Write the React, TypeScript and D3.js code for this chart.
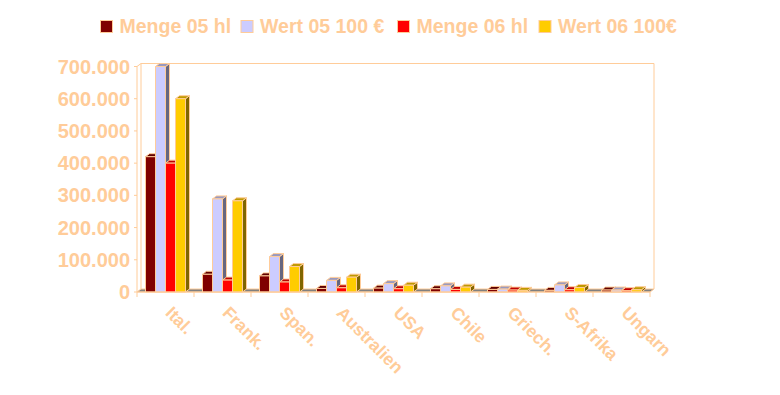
import React from "react";
import * as d3 from "d3";

const categories = ["Ital.", "Frank.", "Span.", "Australien", "USA", "Chile", "Griech.", "S-Afrika", "Ungarn"];
const seriesNames = ["Menge 05 hl", "Wert 05 100 €", "Menge 06 hl", "Wert 06 100€"];
const menge05 = [420000, 55000, 50000, 11000, 12000, 10000, 8000, 5000, 6000];
const wert05 = [700000, 289000, 110000, 36000, 26000, 19000, 9000, 22000, 6000];
const menge06 = [400000, 37000, 31000, 13000, 10000, 8000, 6000, 7000, 4000];
const wert06 = [600000, 283000, 79000, 46000, 21000, 15000, 5000, 14000, 7000];
const yTicks = [0, 100000, 200000, 300000, 400000, 500000, 600000, 700000];

const colors = ["#800000", "#CCCCFF", "#FF0000", "#FFCC00"];
const PEACH = "#FFCC99";

const W = 780, H = 395;
const LEFT = 137, RIGHT = 650, BASE = 292, TOP = 66.5;
const DX = 4, DY = 3;
const FONT = "'Liberation Sans', Arial, sans-serif";

function shade(c: string, k: number) {
  const r = d3.rgb(c);
  return d3.rgb(r.r * k, r.g * k, r.b * k).formatHex();
}

export default function App() {
  const series = [menge05, wert05, menge06, wert06];
  const x = d3.scaleBand<string>().domain(categories).range([LEFT, RIGHT]).padding(0);
  const bw = x.bandwidth();
  const inner = d3.scaleBand<number>().domain([0, 1, 2, 3]).range([(bw - 40) / 2, (bw + 40) / 2]).padding(0);
  const y = d3.scaleLinear().domain([0, 700000]).range([BASE, TOP]);
  const fmt = (v: number) => (v === 0 ? "0" : d3.format(",")(v).replace(/,/g, "."));

  const bars: JSX.Element[] = [];
  categories.forEach((c, ci) => {
    series.forEach((s, si) => {
      const x0 = (x(c) as number) + (inner(si) as number);
      const x1 = x0 + inner.bandwidth();
      const yt = y(s[ci]);
      const y0 = y(0);
      const col = colors[si];
      bars.push(
        <g key={`${ci}-${si}`} stroke={PEACH} strokeWidth={1} strokeLinejoin="round">
          <polygon points={`${x1},${yt} ${x1 + DX},${yt - DY} ${x1 + DX},${y0 - DY} ${x1},${y0}`} fill={shade(col, 0.5)} />
          <polygon points={`${x0},${yt} ${x0 + DX},${yt - DY} ${x1 + DX},${yt - DY} ${x1},${yt}`} fill={shade(col, 0.75)} />
          <rect x={x0} y={yt} width={x1 - x0} height={Math.max(0, y0 - yt)} fill={col} />
        </g>
      );
    });
  });

  const legendX = [100.5, 241, 397.5, 539];

  return (
    <svg width={W} height={H} style={{ display: "block", position: "absolute", left: 0, top: 0 }} fontFamily={FONT}>
      <rect x={0} y={0} width={W} height={H} fill="#fff" />
      {/* legend */}
      {seriesNames.map((n, i) => (
        <g key={n}>
          <rect x={legendX[i]} y={20.5} width={12} height={12} fill={colors[i]} stroke={PEACH} strokeWidth={1} />
          <text x={legendX[i] + 19} y={32.5} fontSize={19.5} fontWeight="bold" fill={PEACH}>{n}</text>
        </g>
      ))}
      {/* back wall */}
      <polyline points={`${LEFT + DX},${BASE - DY} ${LEFT + DX},${TOP - DY} ${RIGHT + DX},${TOP - DY} ${RIGHT + DX},${BASE - DY}`} fill="none" stroke={PEACH} strokeWidth={1} />
      {/* floor */}
      <polygon points={`${LEFT},${BASE} ${LEFT + DX},${BASE - DY} ${RIGHT + DX},${BASE - DY} ${RIGHT},${BASE}`} fill="#808080" stroke={PEACH} strokeWidth={1} />
      {/* y axis */}
      <line x1={LEFT} y1={BASE} x2={LEFT} y2={TOP} stroke={PEACH} />
      <line x1={LEFT} y1={TOP} x2={LEFT + DX} y2={TOP - DY} stroke={PEACH} />
      {yTicks.map((t) => (
        <g key={t}>
          <line x1={LEFT - 3} x2={LEFT} y1={y(t)} y2={y(t)} stroke={PEACH} />
          <text x={130} y={y(t) + 7} textAnchor="end" fontSize={20} fontWeight="bold" fill={PEACH}>{fmt(t)}</text>
        </g>
      ))}
      {bars}
      {/* x axis */}
      <line x1={LEFT} x2={RIGHT} y1={BASE} y2={BASE} stroke={PEACH} />
      {[...categories.map((c) => x(c) as number), RIGHT].map((t, i) => (
        <line key={i} x1={t} x2={t} y1={BASE} y2={BASE + 5} stroke={PEACH} />
      ))}
      {categories.map((c) => {
        const cx = (x(c) as number) + bw / 2;
        return (
          <text key={c} transform={`translate(${cx - 1},${314}) rotate(45)`} fontSize={17.5} fontWeight="bold" fill={PEACH}>{c}</text>
        );
      })}
    </svg>
  );
}
